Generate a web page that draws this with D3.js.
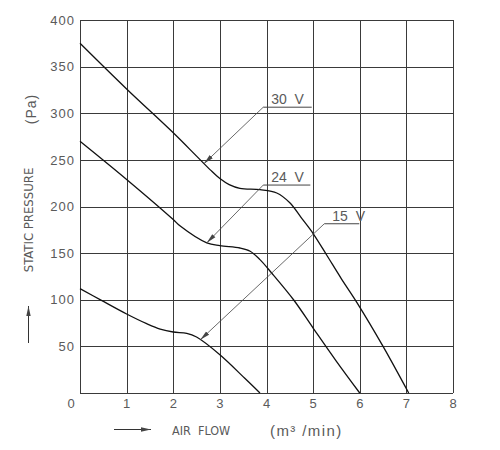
<!DOCTYPE html>
<html>
<head>
<meta charset="utf-8">
<script src="https://cdn.jsdelivr.net/npm/d3@7"></script>
<style>
  body { margin: 0; background: #fff; }
  svg text { font-family: "Liberation Sans Narrow", "DejaVu Sans Condensed", "Liberation Sans", sans-serif; fill: #5a5a5a; }
</style>
</head>
<body>
<div id="chart"></div>
<script>
// air flow (m3/min) vs static pressure (Pa)
var flow30 = [0, 1, 2, 2.5, 2.8, 3.0, 3.2, 3.43, 3.86, 4.22, 4.5, 4.76, 5.0, 5.29, 5.6, 5.94, 6.5, 7.05];
var pres30 = [375, 326, 279, 254, 239, 230, 223.5, 219.5, 218, 214.5, 204, 187, 171, 148, 123, 97, 50, 0];

var flow24 = [0, 1, 2, 2.15, 2.72, 3.0, 3.43, 3.65, 3.86, 4.11, 4.58, 5.0, 5.5, 6.0];
var pres24 = [270, 229, 186, 179, 161, 158, 155.5, 152, 143, 128.7, 100, 69.7, 34, 0];

var flow15 = [0, 0.46, 1, 1.43, 1.72, 2.0, 2.29, 2.5, 3.0, 3.54, 3.86];
var pres15 = [112, 99.3, 84.7, 74.3, 68.5, 65.4, 64, 60, 41, 15.5, 0];

var xTicks = [1, 2, 3, 4, 5, 6, 7, 8];
var yTicks = [50, 100, 150, 200, 250, 300, 350, 400];

// voltage labels: underline from (x0,y) to (x1,y), arrow down to the curve point
var labelNames = ["30  V", "24  V", "15  V"];
var labelX0 = [3.93, 3.93, 5.24];
var labelX1 = [4.97, 4.94, 5.99];
var labelY = [306.5, 223, 181.5];
var tipX = [2.66, 2.72, 2.58];
var tipY = [246, 161, 57];

var width = 500, height = 450;
var svg = d3.select("#chart").append("svg")
    .attr("width", width)
    .attr("height", height);

var x = d3.scaleLinear().domain([0, 8]).range([80, 453]);
var y = d3.scaleLinear().domain([0, 400]).range([393, 20]);

svg.append("defs").append("marker")
    .attr("id", "tip")
    .attr("viewBox", "0 -3 10 6")
    .attr("refX", 10)
    .attr("refY", 0)
    .attr("markerWidth", 10)
    .attr("markerHeight", 6)
    .attr("markerUnits", "userSpaceOnUse")
    .attr("orient", "auto")
    .append("path")
    .attr("d", "M0,-2.2L10,0L0,2.2Z")
    .attr("fill", "#444");

// grid
var grid = svg.append("g").attr("stroke", "#3a3a3a").attr("stroke-width", 1).attr("shape-rendering", "crispEdges");
grid.selectAll(".vx")
    .data(d3.range(0, 9))
    .enter().append("line")
    .attr("x1", function(d) { return Math.round(x(d)) + 0.5; })
    .attr("x2", function(d) { return Math.round(x(d)) + 0.5; })
    .attr("y1", y(0))
    .attr("y2", y(400));
grid.selectAll(".hy")
    .data(d3.range(0, 401, 50))
    .enter().append("line")
    .attr("y1", function(d) { return Math.round(y(d)) + 0.5; })
    .attr("y2", function(d) { return Math.round(y(d)) + 0.5; })
    .attr("x1", x(0))
    .attr("x2", x(8));

// axes (labels only)
var xAxis = svg.append("g")
    .attr("transform", "translate(0," + (y(0) + 2) + ")")
    .call(d3.axisBottom(x).tickValues(xTicks).tickSize(0).tickPadding(4));
var yAxis = svg.append("g")
    .attr("transform", "translate(" + (x(0) - 5) + ",0)")
    .call(d3.axisLeft(y).tickValues(yTicks).tickSize(0).tickPadding(0));
[xAxis, yAxis].forEach(function(a) {
    a.select(".domain").remove();
    a.selectAll("text")
        .style("font-size", "13px")
        .style("letter-spacing", "1px")
        .style("font-family", "Liberation Sans, sans-serif")
        .attr("fill", "#5a5a5a");
});
svg.append("text")
    .attr("x", x(0) - 9)
    .attr("y", y(0) + 15)
    .attr("text-anchor", "middle")
    .style("font-size", "13px")
    .style("font-family", "Liberation Sans, sans-serif")
    .text("0");

// curves
var line = d3.line()
    .x(function(d) { return x(d[0]); })
    .y(function(d) { return y(d[1]); })
    .curve(d3.curveCatmullRom.alpha(0.5));

var series = [d3.zip(flow30, pres30), d3.zip(flow24, pres24), d3.zip(flow15, pres15)];
svg.selectAll(".curve")
    .data(series)
    .enter().append("path")
    .attr("class", "curve")
    .attr("d", line)
    .attr("fill", "none")
    .attr("stroke", "#111")
    .attr("stroke-width", 1.3);

// voltage labels with leaders
labelNames.forEach(function(name, i) {
    var g = svg.append("g");
    g.append("line")
        .attr("x1", x(labelX0[i])).attr("y1", y(labelY[i]))
        .attr("x2", x(labelX1[i])).attr("y2", y(labelY[i]))
        .attr("stroke", "#444").attr("stroke-width", 1);
    g.append("line")
        .attr("x1", x(labelX0[i])).attr("y1", y(labelY[i]))
        .attr("x2", x(tipX[i])).attr("y2", y(tipY[i]))
        .attr("stroke", "#444").attr("stroke-width", 0.8)
        .attr("marker-end", "url(#tip)");
    g.append("text")
        .attr("x", x(labelX0[i]) + 8)
        .attr("y", y(labelY[i]) - 3)
        .style("font-size", "14px")
        .style("font-family", "Liberation Sans, sans-serif")
        .style("white-space", "pre")
        .text(name);
});

// axis titles
svg.append("text")
    .attr("transform", "translate(36,109) rotate(-90)")
    .attr("text-anchor", "middle")
    .style("font-size", "14px")
    .style("letter-spacing", "1px")
    .style("font-family", "Liberation Sans, sans-serif")
    .text("(Pa)");
svg.append("text")
    .attr("transform", "translate(33,220) rotate(-90)")
    .attr("text-anchor", "middle")
    .style("font-size", "13px")
    .text("STATIC  PRESSURE");
svg.append("line")
    .attr("x1", 28.5).attr("y1", 343)
    .attr("x2", 28.5).attr("y2", 306)
    .attr("stroke", "#333").attr("stroke-width", 1)
    .attr("marker-end", "url(#tip)");

svg.append("line")
    .attr("x1", 114).attr("y1", 429.5)
    .attr("x2", 151).attr("y2", 429.5)
    .attr("stroke", "#333").attr("stroke-width", 1)
    .attr("marker-end", "url(#tip)");
svg.append("text")
    .attr("x", 172)
    .attr("y", 435)
    .style("font-size", "12.5px")
    .style("white-space", "pre")
    .text("AIR  FLOW");
svg.append("text")
    .attr("x", 270)
    .attr("y", 436)
    .style("font-size", "15px")
    .style("letter-spacing", "1.4px")
    .style("font-family", "Liberation Sans, sans-serif")
    .style("white-space", "pre")
    .text("(m³ /min)");
</script>
</body>
</html>
